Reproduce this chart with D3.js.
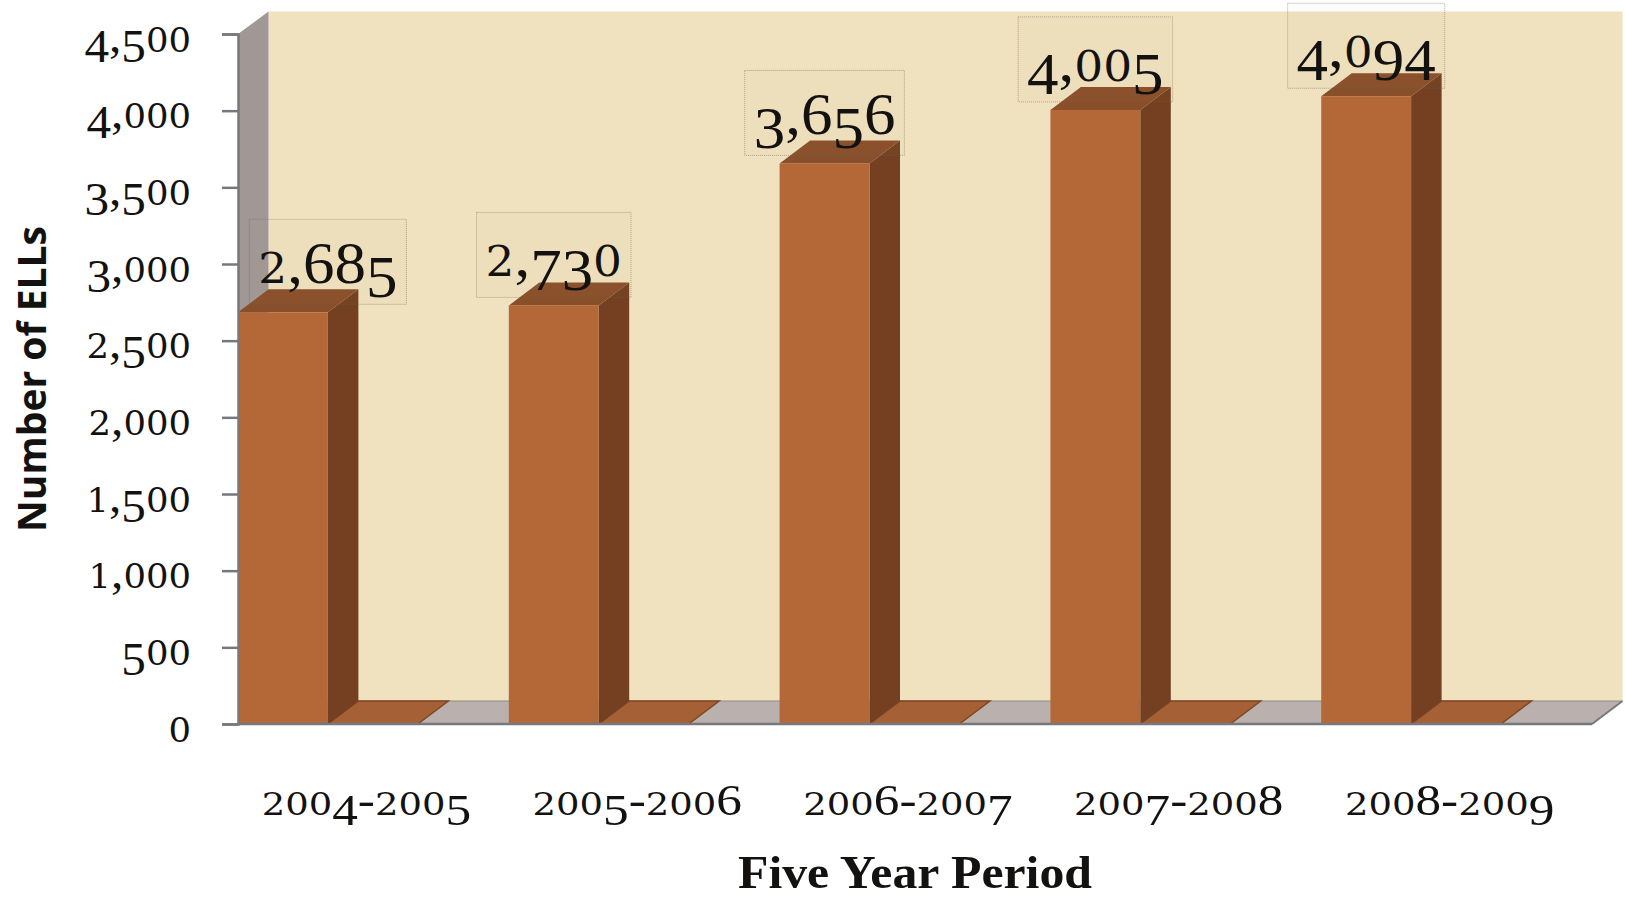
<!DOCTYPE html>
<html>
<head>
<meta charset="utf-8">
<script src="https://cdnjs.cloudflare.com/ajax/libs/d3/7.8.5/d3.min.js"></script>
<style>
  html, body { margin: 0; padding: 0; background: #fff; }
  svg { display: block; }
  text { fill: #141210; }
  .num { font-family: "Liberation Serif", serif; }
</style>
</head>
<body>
<svg id="chart" width="1625" height="898"></svg>
<script>
// Number of English language learners per school year
const periods = ["2004-2005", "2005-2006", "2006-2007", "2007-2008", "2008-2009"];
const ells = [2685, 2730, 3656, 4005, 4094];
const secondSeries = [0, 0, 0, 0, 0];
const yTicks = [0, 500, 1000, 1500, 2000, 2500, 3000, 3500, 4000, 4500];
const yTitle = "Number of ELLs";
const xTitle = "Five Year Period";

const svg = d3.select("#chart");
const plotLeft = 238, plotRight = 1592, plotBottom = 724, plotTop = 34;
const depthX = 30.5, depthY = -23;

const x = d3.scaleBand().domain(periods).range([plotLeft, plotRight]);
const y = d3.scaleLinear().domain([0, 4500]).range([plotBottom, plotTop]);
const barW = x.bandwidth() * 0.332;
const fmt = d3.format(",");

const poly = pts => pts.map(p => p.join(",")).join(" ");

// Old-style figures: low digits use a wider face at x-height, descending digits drop below the baseline
function oldStyle(sel, str, em) {
  sel.text(null);
  let prev = 0;
  for (const ch of str) {
    const low = "012".includes(ch);
    const drop = "34579".includes(ch) ? em * 0.22 : 0;
    sel.append("tspan")
      .attr("font-family", low ? "'DejaVu Serif', serif" : "'Liberation Serif', serif")
      .attr("font-size", low ? em * 0.72 : em)
      .attr("dy", drop - prev)
      .text(ch);
    prev = drop;
  }
}

// Chart box: back wall, side wall, floor
const wallTop = y(4500) + depthY + 0.5;
const wall = svg.append("g");
wall.append("polygon")
  .attr("points", poly([[plotLeft + depthX, wallTop], [plotRight + depthX, wallTop],
                        [plotRight + depthX, y(0) + depthY], [plotLeft + depthX, y(0) + depthY]]))
  .attr("fill", "#f0e2bf");
wall.append("polygon")
  .attr("points", poly([[plotLeft, y(4500)], [plotLeft + depthX, wallTop],
                        [plotLeft + depthX, y(0) + depthY], [plotLeft, y(0)]]))
  .attr("fill", "#a19896");
wall.append("polygon")
  .attr("points", poly([[plotLeft, y(0)], [plotRight, y(0)], [plotRight + depthX, y(0) + depthY], [plotLeft + depthX, y(0) + depthY]]))
  .attr("fill", "#bab1ae");
wall.append("line")
  .attr("x1", plotLeft + depthX).attr("x2", plotRight + depthX)
  .attr("y1", y(0) + depthY).attr("y2", y(0) + depthY)
  .attr("stroke", "#8d8a88").attr("stroke-width", 1);
wall.append("line")
  .attr("x1", plotRight).attr("x2", plotRight + depthX)
  .attr("y1", y(0)).attr("y2", y(0) + depthY)
  .attr("stroke", "#77787b").attr("stroke-width", 2);

// Zero-height second series lying on the floor
svg.append("g").selectAll("polygon")
  .data(periods.map((p, i) => ({ p, v: secondSeries[i] })))
  .join("polygon")
  .attr("points", d => {
    const x0 = x(d.p) + barW, x1 = x0 + barW, yy = y(d.v);
    return poly([[x0, yy], [x1, yy], [x1 + depthX, yy + depthY], [x0 + depthX, yy + depthY]]);
  })
  .attr("fill", "#a66035")
  .attr("stroke", "#7f4724")
  .attr("stroke-width", 1.5);

// Bars: side, top, front
const bars = svg.append("g").selectAll("g")
  .data(periods.map((p, i) => ({ p, v: ells[i] })))
  .join("g");
bars.append("polygon")
  .attr("points", d => {
    const xr = x(d.p) + barW, yt = y(d.v), yb = y(0);
    return poly([[xr, yt], [xr + depthX, yt + depthY], [xr + depthX, yb + depthY], [xr, yb]]);
  })
  .attr("fill", "#744021");
bars.append("polygon")
  .attr("points", d => {
    const xl = x(d.p), xr = xl + barW, yt = y(d.v);
    return poly([[xl, yt], [xr, yt], [xr + depthX, yt + depthY], [xl + depthX, yt + depthY]]);
  })
  .attr("fill", "#894f2b");
bars.append("rect")
  .attr("x", d => x(d.p)).attr("width", barW)
  .attr("y", d => y(d.v)).attr("height", d => y(0) - y(d.v))
  .attr("fill", "#b46838");

// Value axis
const yAxis = svg.append("g")
  .attr("transform", `translate(${plotLeft},0)`)
  .call(d3.axisLeft(y).tickValues(yTicks).tickSize(16).tickPadding(0).tickFormat(fmt));
yAxis.selectAll(".domain").attr("stroke", "#77787b").attr("stroke-width", 2.5);
yAxis.selectAll(".tick line").attr("stroke", "#77787b").attr("stroke-width", 2.5);
yAxis.selectAll(".tick text").each(function (d) {
  const t = d3.select(this)
    .attr("class", "num")
    .attr("text-anchor", "end")
    .attr("x", 0).attr("y", 0).attr("dy", null)
    .attr("transform", "translate(-47,17) scale(1.07,1)");
  oldStyle(t, fmt(d), 46);
});

// Baseline
svg.append("line")
  .attr("x1", plotLeft).attr("x2", plotRight)
  .attr("y1", y(0)).attr("y2", y(0))
  .attr("stroke", "#77787b").attr("stroke-width", 2.5);

// Category labels
svg.append("g").selectAll("text")
  .data(periods)
  .join("text")
  .attr("class", "num")
  .attr("text-anchor", "middle")
  .attr("transform", d => `translate(${x(d) + x.bandwidth() / 2 - 7},815) scale(1.14,1)`)
  .each(function (d) { oldStyle(d3.select(this), d, 45); });

// Value labels in dotted boxes
const labels = svg.append("g").selectAll("g")
  .data(periods.map((p, i) => ({ p, v: ells[i], shift: i === 0 ? barW / 2 : 0 })))
  .join("g")
  .attr("transform", d => `translate(${x(d.p) + barW / 2 + d.shift},${y(d.v) - 8})`);
labels.append("rect")
  .attr("y", -85).attr("height", 85)
  .attr("fill", "rgba(190,160,100,0.03)")
  .attr("stroke", "rgba(110,100,80,0.5)")
  .attr("stroke-width", 1)
  .attr("stroke-dasharray", "1 1");
const valueText = labels.append("text")
  .attr("class", "num")
  .attr("text-anchor", "middle")
  .attr("transform", "translate(0,-21) scale(1.05,1)")
  .each(function (d) { oldStyle(d3.select(this), fmt(d.v), 60); });
valueText.each(function () {
  const w = this.getComputedTextLength() * 1.05 + 18;
  d3.select(this.parentNode).select("rect").attr("x", -w / 2).attr("width", w);
});

// Axis titles
svg.append("text")
  .attr("transform", "translate(46,379) rotate(-90)")
  .attr("text-anchor", "middle")
  .attr("font-family", "'Open Sans', sans-serif")
  .attr("font-weight", 700)
  .attr("font-size", 39)
  .text(yTitle);
svg.append("text")
  .attr("transform", "translate(915,887.5) scale(1.06,1)")
  .attr("text-anchor", "middle")
  .attr("font-family", "'Liberation Serif', serif")
  .attr("font-weight", 700)
  .attr("font-size", 47)
  .text(xTitle);
</script>
</body>
</html>
